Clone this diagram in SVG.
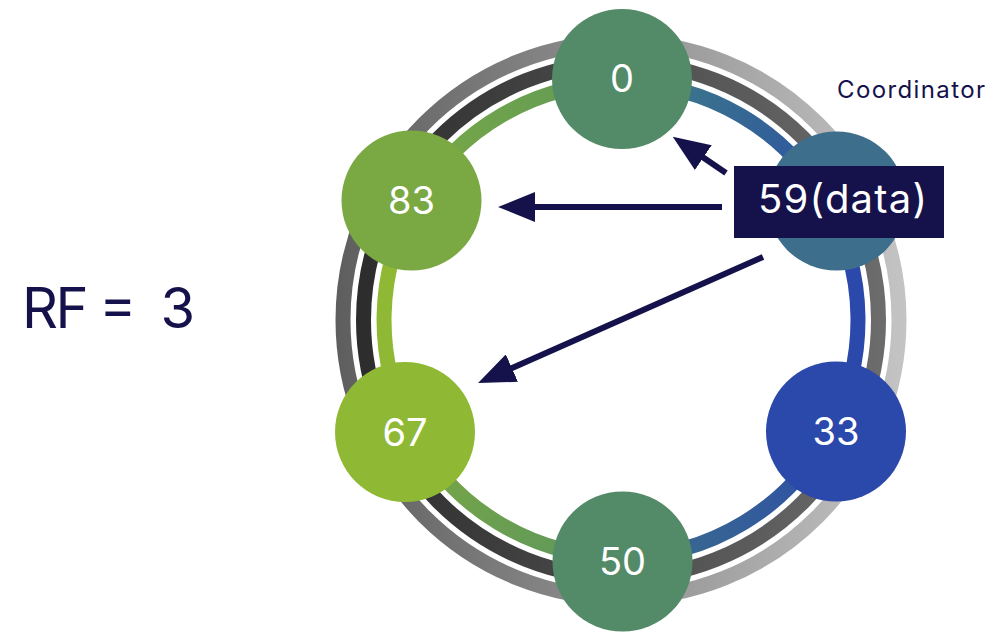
<svg xmlns="http://www.w3.org/2000/svg" width="996" height="637" viewBox="0 0 996 637">
  <style>
    .band { fill: none; stroke-width: 15; }
    .node-label { font-family: Inter, "Liberation Sans", sans-serif; font-size: 38px; fill: #ffffff; text-anchor: middle; }
    .ink { fill: #15124b; }
    .arrow { stroke: #15124b; stroke-width: 6; fill: none; marker-end: url(#head); }
  </style>
  <defs>
    <marker id="head" markerUnits="userSpaceOnUse" viewBox="0 0 37 30" markerWidth="37" markerHeight="30" refX="1" refY="15" orient="auto">
      <path d="M0,0 L37,15 L0,30 Z" fill="#15124b"/>
    </marker>
    <linearGradient id="ringDark" gradientUnits="userSpaceOnUse" x1="356" y1="0" x2="886" y2="0">
      <stop offset="0" stop-color="#2c2c2c"/>
      <stop offset="1" stop-color="#6c6c6c"/>
    </linearGradient>
    <linearGradient id="ringLight" gradientUnits="userSpaceOnUse" x1="336" y1="0" x2="906" y2="0">
      <stop offset="0" stop-color="#5e5e5e"/>
      <stop offset="1" stop-color="#c4c4c4"/>
    </linearGradient>
    <linearGradient id="seg1" gradientUnits="userSpaceOnUse" x1="621" y1="83" x2="828" y2="205">
      <stop offset="0" stop-color="#3f7d84"/>
      <stop offset="1" stop-color="#2c52a4"/>
    </linearGradient>
    <linearGradient id="seg3" gradientUnits="userSpaceOnUse" x1="831" y1="429" x2="621" y2="557">
      <stop offset="0" stop-color="#2c4ea7"/>
      <stop offset="1" stop-color="#3c6e8a"/>
    </linearGradient>
    <linearGradient id="seg4" gradientUnits="userSpaceOnUse" x1="621" y1="557" x2="411" y2="429">
      <stop offset="0" stop-color="#5b955e"/>
      <stop offset="1" stop-color="#7aa843"/>
    </linearGradient>
    <linearGradient id="seg6" gradientUnits="userSpaceOnUse" x1="416" y1="201" x2="621" y2="83">
      <stop offset="0" stop-color="#7aa843"/>
      <stop offset="1" stop-color="#5f9a58"/>
    </linearGradient>
  </defs>

  <rect width="996" height="637" fill="#ffffff"/>

  <!-- token ring: two grey outer bands and the coloured inner band -->
  <g id="ring">
    <circle class="band" cx="621" cy="320" r="278" stroke="url(#ringLight)"/>
    <circle class="band" cx="621" cy="320" r="257.5" stroke="url(#ringDark)"/>
    <path class="band" stroke="url(#seg1)" d="M621,83 A237,237 0 0 1 828.3,205.1"/>
    <path class="band" stroke="#2b48ab" d="M828.3,205.1 A237,237 0 0 1 831.2,429.4"/>
    <path class="band" stroke="url(#seg3)" d="M831.2,429.4 A237,237 0 0 1 621,557"/>
    <path class="band" stroke="url(#seg4)" d="M621,557 A237,237 0 0 1 410.8,429.4"/>
    <path class="band" stroke="#8fb935" d="M410.8,429.4 A237,237 0 0 1 415.8,201.5"/>
    <path class="band" stroke="url(#seg6)" d="M415.8,201.5 A237,237 0 0 1 621,83"/>
  </g>

  <g id="node-0">
    <circle cx="622" cy="79" r="70" fill="#538a67"/>
    <text class="node-label" x="622" y="92">0</text>
  </g>
  <g id="node-83">
    <circle cx="411.5" cy="200.5" r="70" fill="#7aa843"/>
    <text class="node-label" x="411.5" y="214">83</text>
  </g>
  <g id="node-67">
    <circle cx="405" cy="432" r="70" fill="#8fb935"/>
    <text class="node-label" x="405" y="446">67</text>
  </g>
  <g id="node-50">
    <circle cx="622.5" cy="561.5" r="70" fill="#538a67"/>
    <text class="node-label" x="622.5" y="575">50</text>
  </g>
  <g id="node-33">
    <circle cx="836" cy="431.5" r="70" fill="#2b48ab"/>
    <text class="node-label" x="836" y="445">33</text>
  </g>
  <g id="node-59">
    <circle cx="836.5" cy="201" r="69.5" fill="#3d6e8b"/>
  </g>

  <!-- replica writes from the coordinator -->
  <g id="connectors">
    <line class="arrow" x1="726" y1="173" x2="702.5" y2="157"/>
    <line class="arrow" x1="722" y1="207" x2="534" y2="207"/>
    <line class="arrow" x1="763" y1="257" x2="511" y2="368.5"/>
  </g>

  <g id="data-label">
    <rect x="734" y="166" width="210" height="72" fill="#15124b"/>
    <text x="758" y="213" font-family="Inter, 'Liberation Sans', sans-serif" font-size="40" fill="#ffffff" textLength="169" lengthAdjust="spacing">59(data)</text>
  </g>

  <text class="ink" x="837" y="98" font-family="Inter, 'Liberation Sans', sans-serif" font-size="24" textLength="148" lengthAdjust="spacing">Coordinator</text>
  <text class="ink" x="22" y="328" font-family="Inter, 'Liberation Sans', sans-serif" font-size="56" style="white-space:pre" textLength="173" lengthAdjust="spacing">RF =  3</text>
</svg>
